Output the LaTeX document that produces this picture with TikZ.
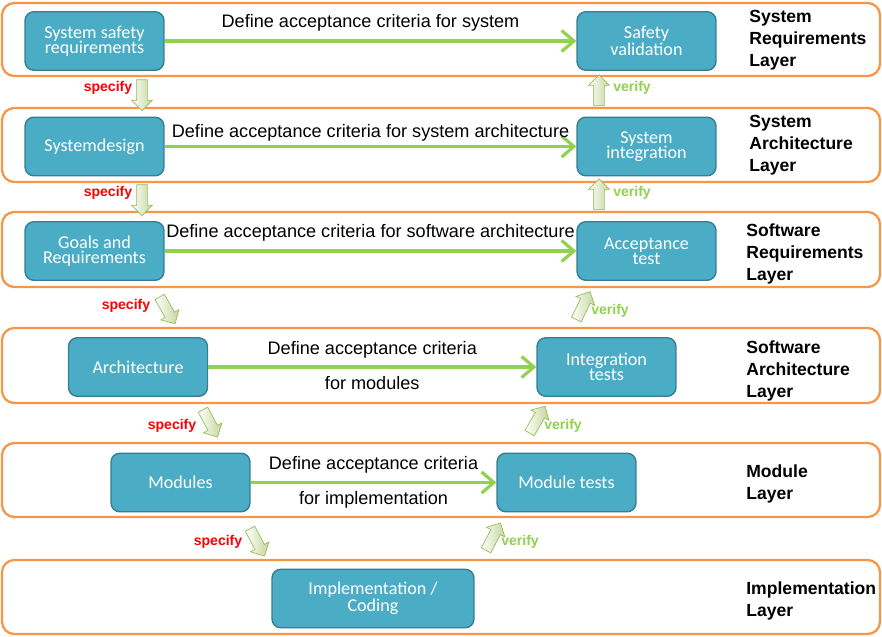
\documentclass[tikz,border=0pt]{standalone}
\usepackage{fontspec}
\setmainfont{Liberation Sans}
\newfontfamily\boxfont{Carlito}
\usetikzlibrary{arrows.meta,shapes.arrows,positioning}

\definecolor{layerline}{HTML}{F79646}
\definecolor{taskfill}{HTML}{4BACC6}
\definecolor{taskline}{HTML}{357D91}
\definecolor{accept}{HTML}{92D050}
\definecolor{blockline}{HTML}{9BBB59}
\definecolor{blockfill}{HTML}{C3D69B}

\begin{document}
\begin{tikzpicture}[x=0.02cm,y=-0.02cm,
    layer/.style = {draw=layerline, line width=1.3pt, rounded corners=7pt},
    task/.style = {draw=taskline, fill=taskfill, line width=0.8pt, rounded corners=5pt,
        text=white, align=center, font=\boxfont\fontsize{10.3}{8.8}\selectfont,
        minimum width=2.78cm, minimum height=1.17cm, inner sep=1pt},
    layername/.style = {anchor=north west, align=left, inner sep=0pt,
        font=\bfseries\fontsize{10}{12.5}\selectfont},
    crit/.style = {draw=accept, line width=1.8pt, -{Straight Barb[length=7pt,width=12pt]}},
    critlabel/.style = {font=\fontsize{10.3}{12}\selectfont, inner sep=0pt},
    block/.style = {single arrow, draw=blockline, left color=white, right color=blockfill,
        minimum height=0.62cm, inner xsep=0pt, inner ysep=0.1cm,
        single arrow head extend=0.1cm},
    spec/.style = {text=red, font=\bfseries\fontsize{8}{9}\selectfont, inner sep=0pt},
    verif/.style = {text=accept, font=\bfseries\fontsize{8}{9}\selectfont, inner sep=0pt}]
    \useasboundingbox (0,0) rectangle (882,636);

    % layers
    \draw[layer] (2,3) rectangle (880,76);
    \draw[layer] (2,108) rectangle (880,182);
    \draw[layer] (2,212) rectangle (880,287);
    \draw[layer] (2,328) rectangle (880,403);
    \draw[layer] (2,443) rectangle (880,517);
    \draw[layer] (2,560) rectangle (880,634);

    \node[layername] (n1) at (749,10) {System\\Requirements\\Layer};
    \node[layername] (n2) at (749,115) {System\\Architecture\\Layer};
    \node[layername] (n3) at (746,223) {Software\\Requirements\\Layer};
    \node[layername] (n4) at (746,340) {Software\\Architecture\\Layer};
    \node[layername] (n5) at (746,464) {Module\\Layer};
    \node[layername] (n6) at (746,581) {Implementation\\Layer};

    % left side
    \node[task] (ssr) at (94.5,41) {System safety\\requirements};
    \node[task] (sd) at (94.5,146.5) {Systemdesign};
    \node[task] (gr) at (94.5,251) {Goals and\\Requirements};
    \node[task] (arch) at (138,367) {Architecture};
    \node[task] (mod) at (180.5,482.5) {Modules};
    \node[task, minimum width=4.04cm] (impl) at (373,598.5) {Implementation /\\Coding};

    % right side
    \node[task] (sv) at (646.5,41) {Safety\\validation};
    \node[task] (si) at (646.5,146.5) {System\\integration};
    \node[task] (at) at (646.5,251) {Acceptance\\test};
    \node[task] (it) at (606.5,367) {Integration\\tests};
    \node[task] (mt) at (566.5,482.5) {Module tests};

    \draw[crit] (ssr) -- node[critlabel, above=4.5pt] {Define acceptance criteria for system} (sv);
    \draw[crit] (sd) -- node[critlabel, above=2pt] {Define acceptance criteria for system architecture} (si);
    \draw[crit] (gr) -- node[critlabel, above=4.5pt] {Define acceptance criteria for software architecture} (at);
    \draw[crit] (arch) -- node[critlabel, above=4pt] {Define acceptance criteria}
        node[critlabel, below=4.5pt] {for modules} (it);
    \draw[crit] (mod) -- node[critlabel, above=4.5pt] {Define acceptance criteria}
        node[critlabel, below=4pt] {for implementation} (mt);

    % specify
    \node[block, rotate=-90] (sp1) at (142,92.5) {};
    \node[block, rotate=-90] (sp2) at (142,197.5) {};
    \node[block, rotate=-60] (sp3) at (166,308) {};
    \node[block, rotate=-62] (sp4) at (209,421) {};
    \node[block, rotate=-62] (sp5) at (256,540) {};
    \node[spec] (st1) at (108,88) {specify};
    \node[spec] (st2) at (108,193) {specify};
    \node[spec] (st3) at (126,306) {specify};
    \node[spec] (st4) at (172,426) {specify};
    \node[spec] (st5) at (218,542) {specify};

    % verify
    \node[block, rotate=90] (vf1) at (599,93) {};
    \node[block, rotate=90] (vf2) at (599,197) {};
    \node[block, rotate=64] (vf3) at (582,308) {};
    \node[block, rotate=60] (vf4) at (536,422) {};
    \node[block, rotate=62] (vf5) at (492,539) {};
    \node[verif] (vt1) at (632,88) {verify};
    \node[verif] (vt2) at (632,193) {verify};
    \node[verif] (vt3) at (610,311) {verify};
    \node[verif] (vt4) at (563,426) {verify};
    \node[verif] (vt5) at (520,542) {verify};
\end{tikzpicture}
\end{document}
